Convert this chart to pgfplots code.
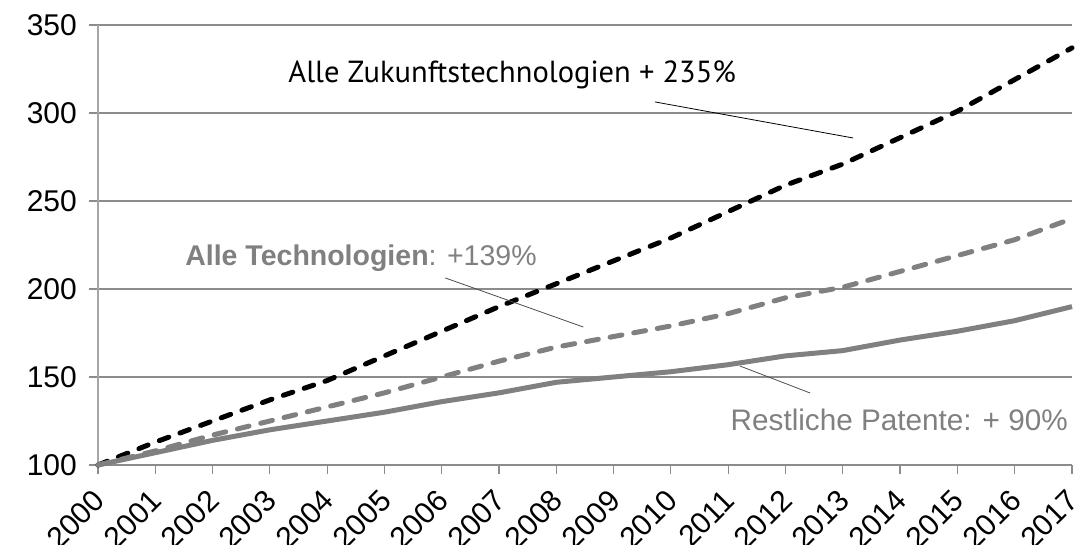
\documentclass[border=0pt]{standalone}
\usepackage{pgfplots}
\pgfplotsset{compat=1.18}
\usepackage{fontspec}
\setmainfont{Liberation Sans}
\newfontfamily\annfont{PT Sans}
\definecolor{lgray}{HTML}{808080}
\definecolor{gridc}{HTML}{8C8C8C}
\definecolor{axisc}{HTML}{A6A6A6}
\begin{document}
\begin{tikzpicture}
\begin{axis}[
  scale only axis,
  width=974pt, height=440pt,
  xmin=2000, xmax=2017, ymin=100, ymax=350,
  xtick={2000,...,2017},
  ytick={100,150,...,350},
  xticklabel={\pgfmathprintnumber[1000 sep={}]{\tick}},
  axis x line*=bottom, axis y line*=left,
  x axis line style={gridc, line width=1.2pt},
  y axis line style={axisc, line width=1.2pt},
  ymajorgrids, xmajorgrids=false,
  major grid style={gridc, line width=1.2pt},
  tick style={gridc, line width=1.2pt},
  major tick length=9pt,
  tick align=outside,
  xtick pos=bottom, ytick pos=left,
  /pgf/number format/assume math mode=true,
  ticklabel style={font=\fontsize{30}{36}\selectfont},
  xticklabel style={yshift=-21pt, xshift=2pt, rotate=45, anchor=east, inner sep=1pt},
  yticklabel style={inner sep=2pt, xshift=-10pt},
  clip=false,
]
\addplot[black, line width=5pt, line cap=round, dash pattern=on 10pt off 12pt] coordinates {
(2000,100)(2001,113)(2002,125)(2003,137)(2004,148)(2005,162)(2006,176)(2007,190)(2008,203)(2009,216)(2010,229)(2011,244)(2012,259)(2013,271)(2014,286)(2015,301)(2016,319)(2017,337)};
\addplot[lgray, line width=5pt, line cap=round, dash pattern=on 12pt off 12pt] coordinates {
(2000,100)(2001,108)(2002,117)(2003,125)(2004,133)(2005,141)(2006,150)(2007,159)(2008,167)(2009,173)(2010,179)(2011,186)(2012,195)(2013,201)(2014,210)(2015,219)(2016,228)(2017,240)};
\addplot[lgray, line width=5pt] coordinates {
(2000,100)(2001,107)(2002,114)(2003,120)(2004,125)(2005,130)(2006,136)(2007,141)(2008,147)(2009,150)(2010,153)(2011,157)(2012,162)(2013,165)(2014,171)(2015,176)(2016,182)(2017,190)};
\draw[black, line width=0.8pt] (axis cs:2009.72,306.3) -- (axis cs:2013.18,285.8);
\draw[black!70, line width=0.8pt] (axis cs:2006.06,206.3) -- (axis cs:2008.47,178.4);
\draw[black!70, line width=0.8pt] (axis cs:2011.2,156.3) -- (axis cs:2012.43,140.9);
\node[font=\annfont\fontsize{30.5}{36}\selectfont, black] at (axis cs:2007.23,321.6) {Alle Zukunftstechnologien + 235\%};
\node[font=\fontsize{28.5}{34}\selectfont, lgray] at (axis cs:2004.59,217.6) {\textbf{Alle Technologien}: +139\%};
\node[font=\fontsize{29.7}{34}\selectfont, lgray, anchor=east, inner sep=0pt] at (axis cs:2016.93,125.6) {Restliche Patente: + 90\%};
\end{axis}
\pgfresetboundingbox
\path[use as bounding box] (-98pt,-79pt) rectangle (978pt,465pt);
\end{tikzpicture}
\end{document}
